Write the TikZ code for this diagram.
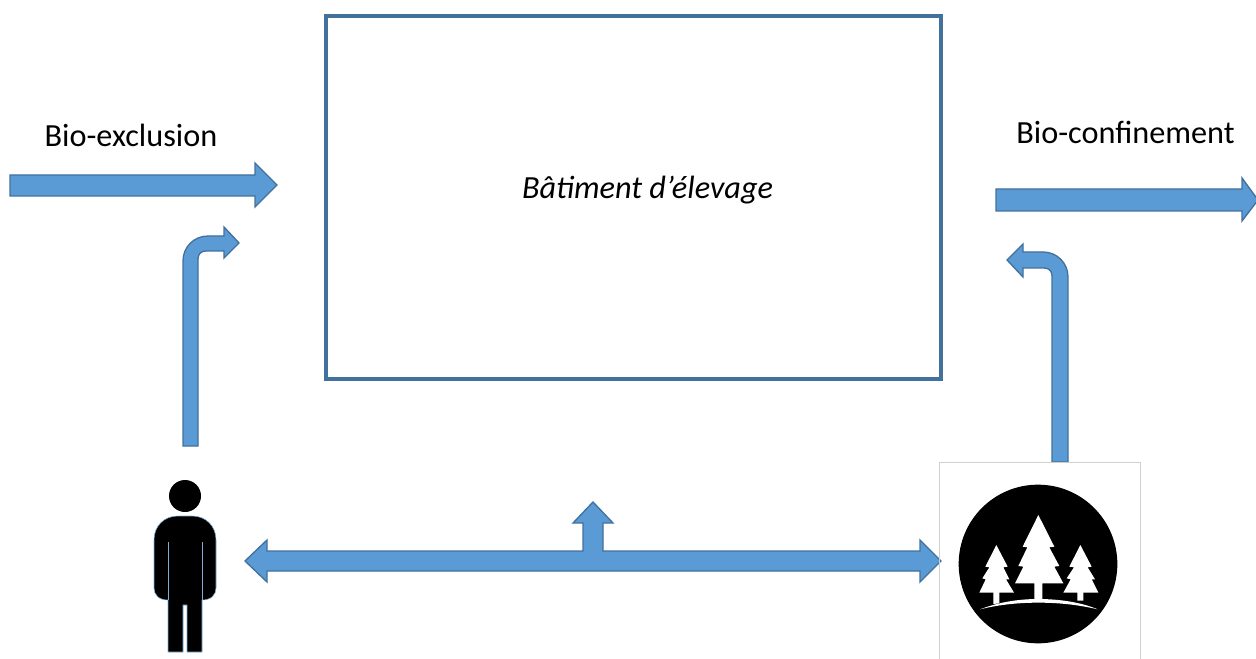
\documentclass[tikz,border=0pt]{standalone}
\usepackage{fontspec}
\setmainfont{Carlito}
\definecolor{arrowfill}{HTML}{5B9BD5}
\definecolor{arrowline}{HTML}{41719C}
\definecolor{boxline}{HTML}{41719C}
\definecolor{frameline}{HTML}{D0D0D0}
\definecolor{personedge}{HTML}{7FAFD8}
\tikzset{
  blockarrow/.style={fill=arrowfill,draw=arrowline,line width=1pt,line join=miter},
  label/.style={inner sep=0pt,anchor=base,font=\fontsize{24.2}{29}\selectfont,text=black},
  building/.style={draw=boxline,line width=3pt,fill=white,inner sep=0pt},
  whiteshape/.style={fill=white,draw=none},
  blackshape/.style={fill=black,draw=none}
}
\begin{document}
\begin{tikzpicture}[x=0.75pt,y=-0.75pt]
\useasboundingbox (0,0) rectangle (1256,659);
\clip (0,0) rectangle (1256,659);
% building
\draw[building] (326,16) rectangle (941,379);
\node[label,font=\fontsize{24.2}{29}\selectfont\itshape] (batiment) at (647.5,199) {Bâtiment d’élevage};
% labels
\node[label] (exclusion) at (131,147) {Bio-exclusion};
\node[label] (confinement) at (1125.5,144) {Bio-confinement};
% top arrows
\draw[blockarrow] (10,175) -- (255,175) -- (255,163) -- (277,185) -- (255,207) -- (255,196) -- (10,196) -- cycle;
\draw[blockarrow] (996,189) -- (1242,189) -- (1242,178) -- (1258,200) -- (1242,221) -- (1242,211) -- (996,211) -- cycle;
% bent arrows
\draw[blockarrow] (183,446) -- (183,261) .. controls (183,247) and (194,236) .. (208,236) -- (224,236) -- (224,227) -- (239,243) -- (224,258) -- (224,251) -- (206,251) .. controls (201,251) and (198,254) .. (198,259) -- (198,446) -- cycle;
\draw[blockarrow] (1068,462) -- (1068,277) .. controls (1068,263) and (1057,252) .. (1043,252) -- (1023,252) -- (1023,244) -- (1007,260) -- (1023,277) -- (1023,268) -- (1044,268) .. controls (1049,268) and (1052,271) .. (1052,276) -- (1052,462) -- cycle;
% double arrow with stem
\draw[blockarrow] (245,561) -- (267,540) -- (267,551) -- (583,551) -- (583,523) -- (573,523) -- (593,502) -- (613,523) -- (603,523) -- (603,551) -- (920,551) -- (920,540) -- (941,561) -- (920,582) -- (920,571) -- (267,571) -- (267,582) -- cycle;
% person
\fill[blackshape] (185,496) circle (16);
\filldraw[fill=black,draw=personedge,line width=0.4pt] (168,652) -- (168,600) .. controls (159,600) and (154,595) .. (154,588) -- (154,540) .. controls (154,526) and (164,516) .. (178,516) -- (192,516) .. controls (206,516) and (216,526) .. (216,540) -- (216,588) .. controls (216,595) and (211,600) .. (202,600) -- (202,652) -- (187,652) -- (187,605) -- (183,605) -- (183,652) -- cycle;
\draw[personedge,line width=0.6pt] (168,542) -- (168,600) (202,542) -- (202,600);
\node[inner sep=0pt,minimum size=0pt] (person) at (185,575) {};
% forest
\draw[frameline,line width=0.6pt] (939,659) -- (939,462) -- (1140,462) -- (1140,659);
\node[circle,fill=black,minimum size=119pt,inner sep=0pt] (forest) at (1038,564) {};
\begin{scope}[shift={(920,450)},x=0.25pt,y=-0.25pt]
\fill[whiteshape] (355,195) -- (403,290) -- (388,292) -- (418,348) -- (403,350) -- (430,400) -- (367,400) -- (367,447) -- (343,447) -- (343,400) -- (285,400) -- (310,350) -- (295,348) -- (322,292) -- (308,290) -- cycle;
\fill[whiteshape] (229,285) -- (263,350) -- (250,352) -- (268,388) -- (258,388) -- (282,428) -- (238,428) -- (238,460) -- (220,462) -- (220,428) -- (178,428) -- (197,388) -- (187,385) -- (208,352) -- (196,350) -- cycle;
\fill[whiteshape] (481,285) -- (515,350) -- (503,352) -- (525,388) -- (515,388) -- (535,428) -- (490,428) -- (490,452) -- (472,452) -- (472,428) -- (430,428) -- (452,388) -- (440,385) -- (462,352) -- (448,350) -- cycle;
\fill[whiteshape] (180,478) .. controls (240,455) and (300,447) .. (355,447) .. controls (410,447) and (480,455) .. (533,478) .. controls (470,463) and (410,458) .. (355,458) .. controls (300,458) and (240,463) .. cycle;
\end{scope}
\end{tikzpicture}
\end{document}
